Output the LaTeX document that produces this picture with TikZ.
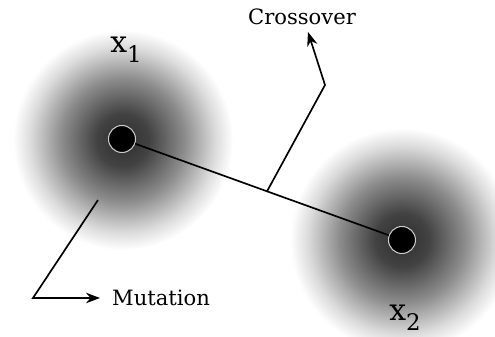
\documentclass[tikz,border=0pt]{standalone}
\usepackage{fontspec}
\setmainfont{DejaVu Serif}
\usetikzlibrary{arrows.meta,calc}

\pgfdeclareradialshading{cloud}{\pgfpoint{0bp}{0bp}}{%
  color(0bp)=(black!82); color(6bp)=(black!74); color(14bp)=(black!45);
  color(21bp)=(black!14); color(25bp)=(white); color(50bp)=(white)}

\tikzset{
  point/.style={circle, fill=black, draw=black!20, line width=0.6pt,
    minimum size=0.54cm, inner sep=0pt},
  varlabel/.style={font=\fontsize{17}{20}\selectfont},
  oplabel/.style={font=\fontsize{12}{14}\selectfont},
  link/.style={line width=0.95pt},
}
\newcommand{\sub}[1]{\raisebox{-5.5pt}{\fontsize{13}{15}\selectfont #1}}

\begin{document}
\begin{tikzpicture}[x=0.02cm, y=-0.02cm]
        \useasboundingbox (0,0) rectangle (495,337);

        % clouds round the two parents
        \shade[shading=cloud] (123,140) circle[radius=110];
        \shade[shading=cloud] (402,240) circle[radius=112];

        % parents
        \node[point] (dot1) at (122,139) {};
        \node[point] (dot2) at (402,240) {};
        \node[varlabel] (x1) at (126,50) {x\sub{1}};
        \node[varlabel] (x2) at (405,318) {x\sub{2}};

        \draw[link] (dot1) -- (dot2);

        % crossover
        \coordinate (cx) at ($(dot1)!0.518!(dot2)$);
        \coordinate (cbend) at (325,85);
        \coordinate (ctip) at (308,32);
        \node[oplabel] (cross) at (302,17) {Crossover};
        \draw[link, -{Stealth[length=8pt, width=6pt]}] (cx) -- (cbend) -- (ctip);

        % mutation
        \coordinate (mstart) at (98,200);
        \coordinate (mbend) at (33,298);
        \node[oplabel, anchor=west] (mut) at (106,298) {Mutation};
        \draw[link, -{Stealth[length=8pt, width=6pt]}] (mstart) -- (mbend) -- (mut.west -| 100,0);

\end{tikzpicture}
\end{document}
